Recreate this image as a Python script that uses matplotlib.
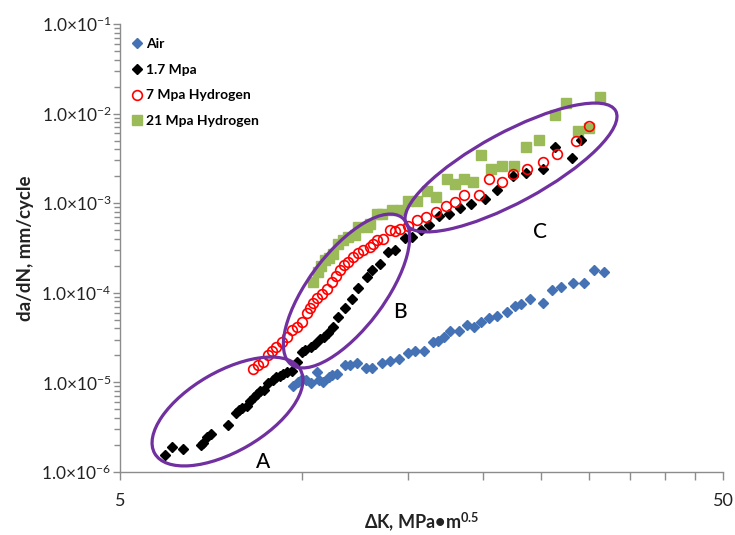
import matplotlib
matplotlib.use("Agg")
import matplotlib.pyplot as plt
from matplotlib.patches import Ellipse
from matplotlib.ticker import FixedLocator, FixedFormatter, LogLocator, NullFormatter, NullLocator
from matplotlib.transforms import Affine2D

plt.rcParams['font.family'] = ['Lato', 'DejaVu Sans']
plt.rcParams['mathtext.fontset'] = 'custom'
plt.rcParams['mathtext.rm'] = 'Lato'
plt.rcParams['mathtext.it'] = 'Lato:italic'
plt.rcParams['mathtext.bf'] = 'Lato:bold'

# ---------------- data ----------------
air_dk = [9.67, 9.88, 10.02, 10.17, 10.36, 10.61, 10.71, 10.86, 11.09, 11.23, 11.45, 11.81, 12.03,
          12.35, 12.77, 13.07, 13.60, 14.01, 14.51, 15.04, 15.43, 15.94, 16.49, 16.86, 17.23, 17.63,
          18.26, 18.79, 19.30, 19.84, 20.44, 21.13, 21.89, 22.57, 23.10, 23.97, 25.12, 26.00, 26.93,
          28.16, 29.41, 30.58, 31.78]
air_dadn = [9.09e-6, 1.02e-5, 1.09e-5, 1.07e-5, 9.9e-6, 1.31e-5, 1.06e-5, 1.02e-5, 1.15e-5, 1.22e-5,
            1.24e-5, 1.56e-5, 1.58e-5, 1.63e-5, 1.43e-5, 1.43e-5, 1.63e-5, 1.73e-5, 1.84e-5, 2.11e-5,
            2.23e-5, 2.26e-5, 2.85e-5, 2.92e-5, 3.2e-5, 3.76e-5, 3.73e-5, 4.35e-5, 4.17e-5, 4.76e-5,
            5.28e-5, 5.53e-5, 6.12e-5, 7.04e-5, 7.43e-5, 8.49e-5, 7.72e-5, 1.07e-4, 1.16e-4, 1.27e-4,
            1.27e-4, 1.79e-4, 1.71e-4]

p17_dk = [5.94, 6.09, 6.35, 6.81, 6.87, 6.98, 7.08, 7.54, 7.79, 7.88, 7.98, 8.11, 8.21, 8.34, 8.45,
          8.55, 8.66, 8.81, 8.96, 9.06, 9.21, 9.33, 9.47, 9.63, 9.82, 10.0, 10.13, 10.37, 10.53, 10.73,
          10.90, 11.08, 11.26, 11.51, 11.81, 12.11, 12.42, 12.83, 13.07, 13.49, 13.93, 14.29, 14.85,
          15.25, 15.77, 16.29, 16.93, 17.59, 18.32, 19.10, 20.17, 21.07, 22.42, 23.57, 25.10, 26.33,
          28.06, 29.07]
p17_dadn = [1.55e-6, 1.89e-6, 1.79e-6, 2.0e-6, 2.12e-6, 2.44e-6, 2.63e-6, 3.34e-6, 4.58e-6, 4.91e-6,
            5.13e-6, 5.44e-6, 6.24e-6, 6.91e-6, 7.41e-6, 8.0e-6, 8.2e-6, 9.75e-6, 1.06e-5, 1.14e-5,
            1.18e-5, 1.23e-5, 1.29e-5, 1.35e-5, 1.68e-5, 2.18e-5, 2.29e-5, 2.49e-5, 2.71e-5, 3.04e-5,
            3.2e-5, 3.57e-5, 4.14e-5, 5.39e-5, 6.73e-5, 8.49e-5, 1.12e-4, 1.49e-4, 1.79e-4, 2.12e-4,
            2.86e-4, 3.04e-4, 4.06e-4, 4.17e-4, 4.99e-4, 5.67e-4, 7.2e-4, 7.66e-4, 8.77e-4, 9.72e-4,
            1.11e-3, 1.42e-3, 1.99e-3, 2.15e-3, 2.39e-3, 4.23e-3, 3.21e-3, 5.02e-3]

h7_dk = [8.30, 8.48, 8.64, 8.80, 8.93, 9.07, 9.27, 9.45, 9.63, 9.82, 10.0, 10.20, 10.33, 10.46, 10.60,
         10.80, 11.01, 11.22, 11.41, 11.58, 11.76, 11.96, 12.19, 12.42, 12.66, 12.99, 13.16, 13.36,
         13.64, 14.02, 14.29, 14.57, 15.04, 15.52, 16.09, 16.71, 17.33, 17.97, 18.60, 19.69, 20.46,
         21.54, 22.45, 23.66, 25.18, 26.50, 28.52, 29.97]
h7_dadn = [1.40e-5, 1.56e-5, 1.70e-5, 2.02e-5, 2.23e-5, 2.47e-5, 2.84e-5, 3.22e-5, 3.83e-5, 4.17e-5,
           4.74e-5, 5.88e-5, 6.73e-5, 7.6e-5, 8.64e-5, 9.82e-5, 1.09e-4, 1.32e-4, 1.53e-4, 1.79e-4,
           2.03e-4, 2.21e-4, 2.51e-4, 2.79e-4, 2.99e-4, 3.25e-4, 3.54e-4, 3.86e-4, 4.03e-4, 4.99e-4,
           4.86e-4, 5.18e-4, 5.53e-4, 6.53e-4, 7.02e-4, 7.98e-4, 9.24e-4, 1.02e-3, 1.25e-3, 1.24e-3,
           1.84e-3, 1.74e-3, 2.10e-3, 2.39e-3, 2.89e-3, 3.51e-3, 4.90e-3, 7.20e-3]

h21_dk = [10.45, 10.63, 10.77, 10.94, 11.09, 11.29, 11.51, 11.73, 11.96, 12.27, 12.42, 12.83, 12.99,
          13.36, 13.58, 14.11, 14.62, 15.04, 15.54, 16.13, 16.74, 17.41, 18.00, 18.63, 19.25, 19.88,
          20.59, 21.50, 22.55, 23.57, 24.74, 26.30, 27.46, 28.71, 30.00, 31.26]
h21_dadn = [1.31e-4, 1.70e-4, 1.98e-4, 2.31e-4, 2.43e-4, 2.73e-4, 3.54e-4, 3.86e-4, 4.2e-4, 4.39e-4,
            5.46e-4, 5.46e-4, 5.92e-4, 7.66e-4, 7.66e-4, 8.33e-4, 8.44e-4, 1.05e-3, 1.05e-3, 1.36e-3,
            1.17e-3, 1.87e-3, 1.65e-3, 1.85e-3, 1.71e-3, 3.48e-3, 2.39e-3, 2.58e-3, 2.58e-3, 4.23e-3,
            5.02e-3, 9.55e-3, 1.32e-2, 6.33e-3, 6.89e-3, 1.53e-2]

x_ticks = [5, 10, 15, 20, 25, 30, 35, 40, 45, 50]
x_ticklabels = ['5', '', '', '', '', '', '', '', '', '50']
y_ticks = [1e-6, 1e-5, 1e-4, 1e-3, 1e-2, 1e-1]
y_ticklabels = [r'1.0×10$^{-6}$', r'1.0×10$^{-5}$', r'1.0×10$^{-4}$',
                r'1.0×10$^{-3}$', r'1.0×10$^{-2}$', r'1.0×10$^{-1}$']
region_labels = ['A', 'B', 'C']
region_dk = [8.62, 14.57, 24.86]
region_dadn = [1.30e-6, 6.12e-5, 4.78e-4]

# ---------------- figure ----------------
W, H = 735, 535
fig = plt.figure(figsize=(W / 100, H / 100), dpi=100)
ax = fig.add_axes([120 / W, (H - 472) / H, 603 / W, 448 / H])

ax.set_xscale('log')
ax.set_yscale('log')
ax.set_xlim(5, 50)
ax.set_ylim(1e-6, 1e-1)

ax.plot(air_dk, air_dadn, linestyle='none', marker='D', ms=5.5, color='#4472B4',
        mec='#4472B4', label='Air', zorder=3)
ax.plot(p17_dk, p17_dadn, linestyle='none', marker='D', ms=5.5, color='black',
        label='1.7 Mpa', zorder=4)
ax.plot(h7_dk, h7_dadn, linestyle='none', marker='o', ms=7, mfc='none', mec='#FF0000',
        mew=1.2, label='7 Mpa Hydrogen', zorder=5)
ax.plot(h21_dk, h21_dadn, linestyle='none', marker='s', ms=6.5, color='#9BBB59',
        mec='#9BBB59', label='21 Mpa Hydrogen', zorder=2)

# ticks
ax.xaxis.set_major_locator(FixedLocator(x_ticks))
ax.xaxis.set_major_formatter(FixedFormatter(x_ticklabels))
ax.xaxis.set_minor_locator(NullLocator())
ax.yaxis.set_major_locator(FixedLocator(y_ticks))
ax.yaxis.set_major_formatter(FixedFormatter(y_ticklabels))
ax.yaxis.set_minor_locator(LogLocator(base=10, subs=range(2, 10)))
ax.yaxis.set_minor_formatter(NullFormatter())

axis_col = '#8C8C8C'
for s in ['top', 'right']:
    ax.spines[s].set_visible(False)
for s in ['left', 'bottom']:
    ax.spines[s].set_color(axis_col)
    ax.spines[s].set_linewidth(1.0)
ax.tick_params(axis='x', which='major', direction='out', length=6, width=1,
               color=axis_col, labelsize=13, pad=9, labelcolor='#222222')
ax.tick_params(axis='y', which='major', direction='out', length=5, width=1,
               color=axis_col, labelsize=12.5, pad=1, labelcolor='#222222')
ax.tick_params(axis='y', which='minor', direction='out', length=4, width=1,
               color=axis_col)

ax.set_xlabel(r'ΔK, MPa•m$^{\mathbf{0.5}}$', fontsize=13, fontweight='bold', color='#222222')
ax.xaxis.set_label_coords(0.5, -0.086)
ax.set_ylabel('da/dN, mm/cycle', fontsize=13.5, fontweight='bold', color='#222222')
ax.yaxis.set_label_coords(-0.143, 0.5)

leg = ax.legend(loc='upper left', bbox_to_anchor=(0.0, 0.99), frameon=False,
                prop={'weight': 'bold', 'size': 10}, handletextpad=0.05,
                labelspacing=0.98, handlelength=1.1, borderaxespad=0.3)

# ellipses in pixel coordinates (from top-left of image)
pix = Affine2D().scale(1, -1).translate(0, H).scale(1 / W, 1 / H) + fig.transFigure
ell_col = '#7030A0'
for (cx, cy, w, h, ang) in [(227.5, 411.5, 168, 80, 30),
                            (346.5, 291, 184, 76, 53),
                            (511, 167.5, 238, 70, 28.4)]:
    e = Ellipse((cx, cy), w, h, angle=-ang, fill=False, edgecolor=ell_col, linewidth=2.3,
                transform=pix, zorder=6)
    fig.add_artist(e)

for lab, xv, yv in zip(region_labels, region_dk, region_dadn):
    ax.text(xv, yv, lab, fontsize=15, fontweight='medium', ha='center', va='center',
            color='black', zorder=7)

fig.savefig('out.png', dpi=100)
